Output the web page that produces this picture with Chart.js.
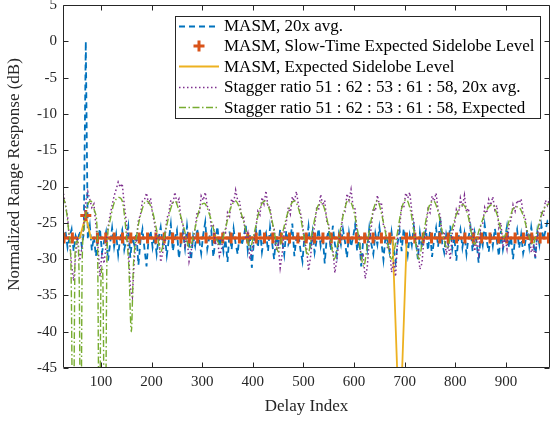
<!DOCTYPE html>
<html><head><meta charset="utf-8">
<script src="https://cdn.jsdelivr.net/npm/chart.js@4.4.0/dist/chart.umd.min.js"></script>
<style>html,body{margin:0;padding:0;background:#fff;overflow:hidden}canvas{display:block}</style>
</head><body>
<canvas id="c" width="551" height="421"></canvas>
<script>
// ---- tick labels / titles ----
const xTicks = [100,200,300,400,500,600,700,800,900];
const yTicks = [5,0,-5,-10,-15,-20,-25,-30,-35,-40,-45];
const xTitle = 'Delay Index';
const yTitle = 'Normalized Range Response (dB)';
const seriesLabels = [
  'MASM, 20x avg.',
  'MASM, Slow-Time Expected Sidelobe Level',
  'MASM, Expected Sidelobe Level',
  'Stagger ratio 51 : 62 : 53 : 61 : 58, 20x avg.',
  'Stagger ratio 51 : 62 : 53 : 61 : 58, Expected'
];
// uniformly sampled series (delay index = sampleStart + k*sampleStep)
const sampleStart = 26, sampleStep = 4;
const masmAvg = [
-27.5,-26.2,-28.4,-27.0,-25.9,-28.9,-26.8,-27.6,-26.1,-28.2,
-26.5,0,-27.3,-25.4,-28.8,-26.9,-29.6,-27.2,-25.8,-29.1,
-27.6,-26.3,-30.2,-27.9,-25.7,-28.3,-26.6,-29.4,-27.1,-26.0,
-28.7,-27.3,-25.5,-29.8,-26.9,-28.1,-26.4,-30.8,-27.5,-25.9,
-28.6,-31.0,-27.2,-26.1,-28.4,-26.8,-29.3,-27.0,-25.6,-28.0,
-26.7,-29.5,-27.4,-25.2,-28.9,-27.1,-26.0,-29.9,-27.7,-26.3,
-28.5,-25.4,-27.8,-30.1,-26.9,-28.2,-25.8,-27.4,-29.2,-26.6,
-24.9,-28.6,-27.0,-26.1,-29.7,-27.5,-25.5,-28.3,-26.8,-29.0,
-27.3,-30.4,-26.2,-28.7,-25.8,-27.9,-29.3,-26.5,-28.1,-27.0,
-25.3,-28.8,-26.7,-31.2,-27.6,-26.0,-28.4,-25.7,-29.0,-27.2,
-26.4,-28.9,-25.6,-27.7,-30.0,-26.8,-28.2,-25.9,-27.5,-29.4,
-26.1,-28.0,-27.3,-25.1,-29.6,-27.0,-26.5,-28.7,-30.3,-26.9,
-27.8,-25.5,-28.6,-26.3,-29.1,-27.4,-25.8,-28.2,-26.7,-30.6,
-27.1,-26.0,-28.8,-25.4,-27.9,-29.5,-26.6,-28.0,-25.9,-27.6,
-29.8,-26.4,-28.3,-27.0,-25.3,-28.9,-26.8,-31.0,-27.4,-26.2,
-28.5,-25.7,-27.9,-29.3,-26.5,-28.0,-25.6,-27.7,-30.1,-26.9,
-27.5,-29.0,-26.3,-28.6,-30.4,-27.8,-26.1,-28.9,-25.8,-27.3,
-29.4,-26.7,-28.1,-25.5,-27.6,-30.0,-26.4,-28.5,-27.1,-25.9,
-28.8,-26.2,-29.7,-27.3,-25.7,-28.3,-24.3,-27.8,-29.1,-26.6,
-27.9,-25.4,-28.6,-26.9,-30.2,-27.2,-25.9,-28.4,-26.5,-29.3,
-27.0,-25.6,-28.9,-26.3,-27.7,-30.5,-26.8,-28.1,-25.3,-27.5,
-29.0,-26.4,-28.2,-25.8,-27.4,-29.6,-26.1,-28.7,-27.2,-25.5,
-28.4,-26.9,-30.0,-27.1,-25.9,-28.5,-26.6,-29.2,-27.8,-26.0,
-28.3,-25.6,-27.5,-29.9,-26.2,-28.0,-25.4,-27.3,-26.1,-24.8,
-25.2];
const staggerAvg = [
-21.0,-22.6,-24.1,-27.5,-30.8,-33.0,-29.5,-27.0,-30.2,-28.6,
-25.4,-22.0,-20.7,-21.8,-22.9,-22.4,-25.3,-28.1,-32.4,-29.0,
-30.6,-28.2,-25.7,-23.9,-22.6,-21.3,-20.4,-19.4,-20.1,-19.6,
-22.5,-24.8,-28.2,-33.9,-35.2,-29.8,-27.4,-24.6,-23.9,-22.0,
-21.8,-20.9,-22.4,-21.6,-23.8,-25.1,-27.3,-26.6,-30.4,-29.1,
-27.6,-24.4,-23.7,-21.9,-22.5,-20.8,-22.2,-21.7,-24.6,-25.2,
-28.1,-27.0,-30.3,-28.9,-27.4,-25.8,-23.5,-23.9,-21.3,-21.9,
-20.8,-22.7,-23.2,-25.6,-25.4,-28.0,-27.1,-29.6,-28.7,-26.2,
-26.4,-23.6,-24.1,-21.7,-22.3,-20.5,-21.9,-22.1,-24.5,-24.3,
-27.2,-26.4,-30.1,-29.0,-27.3,-25.8,-23.4,-23.9,-21.5,-22.4,
-20.6,-22.9,-22.8,-25.2,-25.7,-28.9,-28.0,-31.2,-29.3,-26.1,
-25.0,-22.9,-23.8,-21.4,-22.1,-20.7,-22.5,-23.6,-25.0,-27.9,
-28.3,-31.6,-29.7,-26.8,-25.5,-23.0,-23.2,-21.1,-22.6,-21.9,
-24.8,-25.3,-28.2,-28.6,-31.9,-30.0,-27.6,-26.3,-23.8,-23.5,
-21.0,-21.9,-20.4,-22.8,-23.1,-26.5,-26.7,-30.0,-29.5,-32.7,
-31.1,-27.5,-25.6,-23.0,-23.4,-21.2,-22.5,-22.2,-25.4,-25.8,
-28.6,-28.2,-31.8,-30.3,-32.4,-27.0,-25.5,-22.8,-23.0,-20.9,
-21.6,-20.8,-23.4,-24.9,-27.7,-28.3,-31.4,-30.6,-27.2,-25.9,
-23.1,-23.6,-21.3,-22.0,-20.9,-23.3,-23.9,-26.7,-26.2,-29.4,
-27.8,-30.1,-26.3,-25.5,-23.2,-24.0,-21.6,-22.8,-21.2,-23.5,
-23.0,-26.0,-25.7,-28.9,-27.6,-29.3,-25.4,-25.2,-22.9,-23.7,
-21.8,-22.6,-21.4,-23.2,-22.6,-25.7,-25.0,-28.1,-27.0,-28.6,
-25.3,-24.6,-22.5,-23.4,-21.9,-22.3,-21.7,-23.8,-24.2,-26.9,
-26.4,-29.1,-28.3,-29.8,-26.5,-25.7,-23.4,-24.1,-21.9,-22.6,
-21.7];
// expected stagger response (non-uniform points)
const staggerExpIdx = [25,30,36,41,45,49,53,57,60,63,67,72,80,88,93,97,100,103,108,112,117,125,135,142,150,155,160,164,170,178,190,200,210,218,228,238,246,255,265,275,285,295,304,315,325,335,345,356,366,376,386,394,404,414,424,434,443,450,460,472,482,492,500,508,518,527,535,545,553,561,570,580,589,598,608,619,628,637,646,655,664,674,684,694,703,712,720,728,736,747,757,766,775,784,793,804,815,825,832,838,847,860,873,883,890,896,905,915,924,934,944,953,962,972,982,987];
const staggerExpDb = [-21.4,-22.6,-26,-32,-60,-29,-27.5,-33,-60,-30,-25.5,-23,-22,-23.5,-27,-60,-33,-31,-60,-29,-25,-22.5,-21.5,-22,-26.5,-31,-40,-31,-27,-24,-22,-23,-26,-29,-26,-23,-22,-23.5,-26,-28.5,-26,-23,-22.3,-24,-26.5,-28,-26,-23,-22,-23.5,-26,-28.5,-26,-23,-22,-23.5,-26.5,-29,-26,-23,-22,-23.5,-26.5,-29.5,-26,-23,-22.2,-24,-27,-30,-27,-23.5,-21.8,-23,-26.5,-31,-27,-23.5,-22,-24,-27,-30,-27,-23,-21.8,-23.5,-27,-30,-27,-23,-22,-23.5,-26.5,-28.5,-26,-23.5,-22.5,-24,-26.5,-28,-26,-23.5,-22.5,-24,-26,-27,-25,-23,-22.8,-24,-26.5,-28,-26,-23.5,-22.5,-22.3];
// MASM expected sidelobe level
const masmExpIdx = [25,58,70,80,676,690,704,987];
const masmExpDb  = [-27.1,-27.1,-24,-27.1,-27.1,-55,-27.1,-27.1];
// MASM slow-time expected sidelobe level (markers)
const slowTimeIdx = [27,43.5,70,93,109.5,126,142.5,159,175.5,192,208.5,225,241.5,258,274.5,291,307.5,324,340.5,357,373.5,390,406.5,423,439.5,456,472.5,489,505.5,522,538.5,555,571.5,588,604.5,621,637.5,654,670.5,703.5,720,736.5,753,769.5,786,802.5,819,835.5,852,868.5,885,901.5,918,934.5,951,967.5,984];
const slowTimeDb  = [-27.1,-27.1,-24,-27.1,-27.1,-27.1,-27.1,-27.1,-27.1,-27.1,-27.1,-27.1,-27.1,-27.1,-27.1,-27.1,-27.1,-27.1,-27.1,-27.1,-27.1,-27.1,-27.1,-27.1,-27.1,-27.1,-27.1,-27.1,-27.1,-27.1,-27.1,-27.1,-27.1,-27.1,-27.1,-27.1,-27.1,-27.1,-27.1,-27.1,-27.1,-27.1,-27.1,-27.1,-27.1,-27.1,-27.1,-27.1,-27.1,-27.1,-27.1,-27.1,-27.1,-27.1,-27.1,-27.1,-27.1];

const uniform = arr => arr.map((v,k)=>({x: sampleStart + k*sampleStep, y: v}));
const pairs = (xs, ys) => xs.map((v,k)=>({x: v, y: ys[k]}));

const C = {blue:'#0072BD', orange:'#D95319', yellow:'#EDB120', purple:'#7E2F8E', green:'#77AC30', axis:'#262626'};
const FONT = '"Liberation Serif", "Times New Roman", serif';
Chart.defaults.font.family = FONT;
Chart.defaults.color = C.axis;

const framePlugin = {
  id: 'frame',
  afterDraw(chart) {
    const {ctx, chartArea: a, scales: {x, y}} = chart;
    ctx.save();
    ctx.strokeStyle = C.axis; ctx.lineWidth = 1; ctx.setLineDash([]);
    const L = Math.round(a.left) + 0.5, R = Math.round(a.right) - 0.5;
    const T = Math.round(a.top) + 0.5, B = Math.round(a.bottom) - 0.5;
    ctx.beginPath();
    ctx.rect(L, T, R - L, B - T);
    xTicks.forEach(v => { const p = Math.round(x.getPixelForValue(v)) + 0.5;
      ctx.moveTo(p, B); ctx.lineTo(p, B - 5); ctx.moveTo(p, T); ctx.lineTo(p, T + 5); });
    yTicks.forEach(v => { const p = Math.round(y.getPixelForValue(v)) + 0.5;
      ctx.moveTo(L, p); ctx.lineTo(L + 5, p); ctx.moveTo(R, p); ctx.lineTo(R - 5, p); });
    ctx.stroke();

    // y axis title (MATLAB places it slightly above the axis centre)
    ctx.save();
    ctx.font = '17px ' + FONT; ctx.fillStyle = C.axis;
    ctx.textAlign = 'center'; ctx.textBaseline = 'middle';
    ctx.translate(15, (a.top + a.bottom) / 2 - 12);
    ctx.rotate(-Math.PI / 2);
    ctx.fillText(yTitle, 0, 0);
    ctx.restore();

    // legend box (MATLAB style, inside the axes)
    ctx.font = '17px ' + FONT;
    const ds = chart.data.datasets;
    const maxW = Math.max(...ds.map(d => ctx.measureText(d.label).width));
    const rowH = 20.4;
    const boxW = Math.round(4 + 40 + 5 + maxW + 5);
    const boxH = Math.round(rowH * ds.length);
    const boxR = Math.round(a.right) - 10, boxT = Math.round(a.top) + 11;
    const boxL = boxR - boxW;
    ctx.fillStyle = '#fff';
    ctx.fillRect(boxL, boxT, boxW, boxH);
    ctx.strokeStyle = C.axis; ctx.lineWidth = 1;
    ctx.strokeRect(boxL + 0.5, boxT + 0.5, boxW, boxH);
    ds.forEach((d, i) => {
      const cy = boxT + 9.5 + i * rowH;
      const x0 = boxL + 4, x1 = boxL + 44;
      if (d.showLine === false) {
        const r = d.pointRadius, cx = (x0 + x1) / 2;
        ctx.strokeStyle = d.pointBorderColor; ctx.lineWidth = d.pointBorderWidth; ctx.setLineDash([]);
        ctx.beginPath(); ctx.moveTo(cx - r, cy); ctx.lineTo(cx + r, cy); ctx.moveTo(cx, cy - r); ctx.lineTo(cx, cy + r); ctx.stroke();
      } else {
        ctx.strokeStyle = d.borderColor; ctx.lineWidth = d.borderWidth; ctx.setLineDash(d.borderDash || []);
        ctx.beginPath(); ctx.moveTo(x0, Math.round(cy) + 0.5); ctx.lineTo(x1, Math.round(cy) + 0.5); ctx.stroke();
      }
      ctx.setLineDash([]);
      ctx.fillStyle = '#000'; ctx.textBaseline = 'middle'; ctx.textAlign = 'left';
      ctx.fillText(d.label, boxL + 49, cy + 1);
    });
    ctx.restore();
  }
};

new Chart(document.getElementById('c'), {
  type: 'line',
  data: { datasets: [
    { label: seriesLabels[0], data: uniform(masmAvg), borderColor: C.blue, borderWidth: 1.8, borderDash: [6,4], pointRadius: 0, order: 5 },
    { label: seriesLabels[1], data: pairs(slowTimeIdx, slowTimeDb), showLine: false, pointStyle: 'cross', pointRadius: 5.5, pointBorderWidth: 3, pointBorderColor: C.orange, pointBackgroundColor: C.orange, borderColor: C.orange, order: 3 },
    { label: seriesLabels[2], data: pairs(masmExpIdx, masmExpDb), borderColor: C.yellow, borderWidth: 1.8, pointRadius: 0, order: 4 },
    { label: seriesLabels[3], data: uniform(staggerAvg), borderColor: C.purple, borderWidth: 1.5, borderDash: [1.5,2.5], pointRadius: 0, order: 2 },
    { label: seriesLabels[4], data: pairs(staggerExpIdx, staggerExpDb), borderColor: C.green, borderWidth: 1.4, borderDash: [7,2.5,1.5,2.5], pointRadius: 0, cubicInterpolationMode: 'monotone', order: 1 }
  ]},
  options: {
    responsive: false, animation: false, devicePixelRatio: 1,
    layout: { autoPadding: false, padding: { top: 5, right: 1, left: 0, bottom: 0 } },
    plugins: { legend: { display: false }, tooltip: { enabled: false } },
    scales: {
      x: { type: 'linear', min: 25, max: 987,
        grid: { display: false, drawTicks: false }, border: { display: false },
        afterBuildTicks: s => { s.ticks = xTicks.map(v => ({ value: v })); },
        afterFit: s => { s.height = 53; s.paddingLeft = 0; s.paddingRight = 0; },
        ticks: { font: { size: 15 }, color: C.axis, padding: 5, maxRotation: 0, autoSkip: false },
        title: { display: true, text: xTitle, font: { size: 17 }, color: C.axis, padding: { top: 0, bottom: 4 } } },
      y: { type: 'linear', min: -45, max: 5,
        grid: { display: false, drawTicks: false }, border: { display: false },
        afterBuildTicks: s => { s.ticks = yTicks.map(v => ({ value: v })); },
        afterFit: s => { s.width = 63; s.paddingTop = 0; s.paddingBottom = 0; },
        ticks: { font: { size: 15 }, color: C.axis, padding: 6, autoSkip: false },
        title: { display: false, text: yTitle } }
    }
  },
  plugins: [framePlugin]
});
</script>
</body></html>
